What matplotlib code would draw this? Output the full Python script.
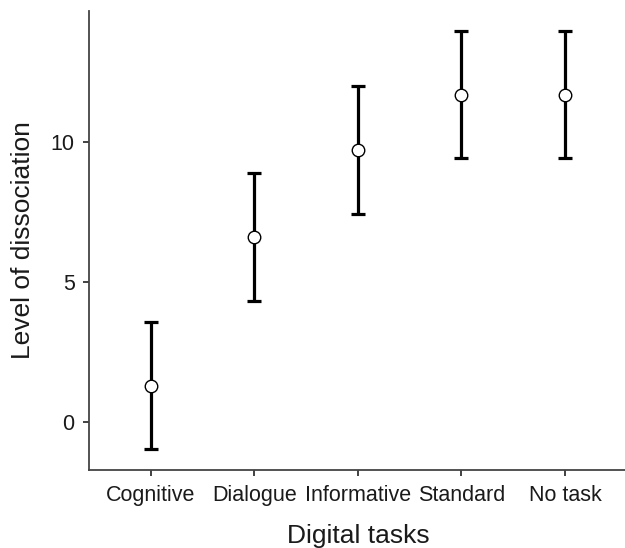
import matplotlib
matplotlib.use("Agg")
import matplotlib.pyplot as plt
import numpy as np

# values
tasks = ["Cognitive", "Dialogue", "Informative", "Standard", "No task"]
means = [1.30, 6.60, 9.70, 11.66, 11.66]
upper = [3.58, 8.88, 11.98, 13.94, 13.94]
lower = [-0.96, 4.32, 7.43, 9.42, 9.42]

plt.rcParams['font.family'] = ['Liberation Sans', 'DejaVu Sans']

fig = plt.figure(figsize=(6.25, 5.48), dpi=100)
ax = fig.add_axes([88.5 / 625, 78 / 548, 538.7 / 625, 459 / 548])

x = np.arange(len(tasks))
m = np.array(means)
err = [m - np.array(lower), np.array(upper) - m]
ax.errorbar(x, m, yerr=err, fmt='none', ecolor='black', elinewidth=2.3,
            capsize=5, capthick=2.3, zorder=2)
ax.plot(x, m, 'o', markersize=9, markerfacecolor='white',
        markeredgecolor='black', markeredgewidth=1.0, zorder=3)

ax.set_xlim(-0.6, 4.6)
ax.set_ylim(-1.70, 14.66)
ax.set_xticks(x)
ax.set_xticklabels(tasks)
ax.set_yticks([0, 5, 10])

for s in ['top', 'right']:
    ax.spines[s].set_visible(False)
for s in ['left', 'bottom']:
    ax.spines[s].set_color('#444444')
    ax.spines[s].set_linewidth(1.3)

ax.tick_params(axis='both', length=4, width=1.3, color='#333333',
               labelsize=15.5, labelcolor='#1a1a1a')
ax.tick_params(axis='x', pad=7)
ax.tick_params(axis='y', pad=6)

ax.set_xlabel("Digital tasks", fontsize=19, color='#1a1a1a', labelpad=13)
ax.set_ylabel("Level of dissociation", fontsize=19, color='#1a1a1a', labelpad=11)

fig.savefig("out.png", dpi=100)
